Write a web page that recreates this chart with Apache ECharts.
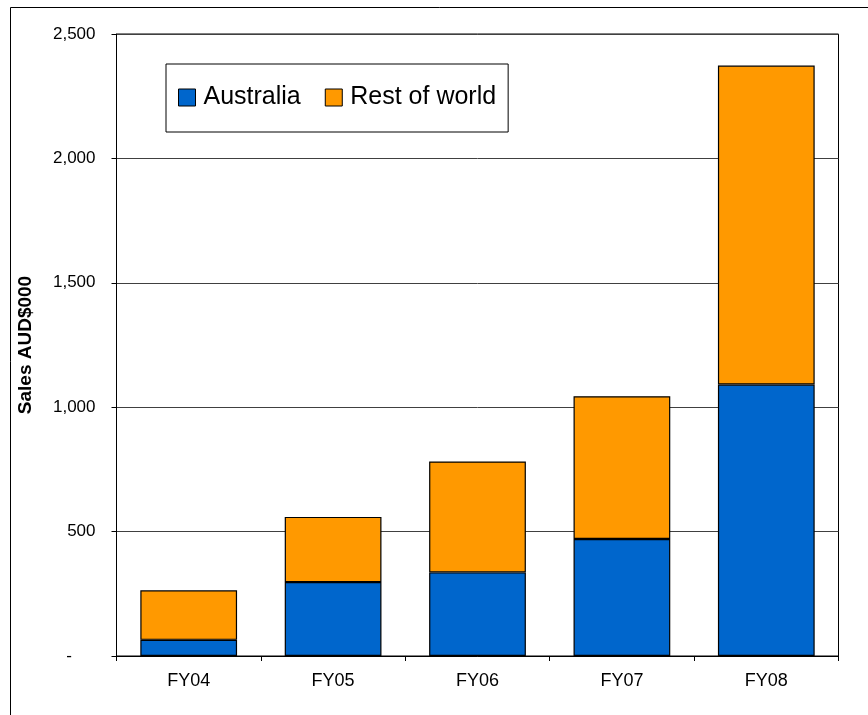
<!DOCTYPE html>
<html>
<head>
<meta charset="utf-8">
<script src="https://cdn.jsdelivr.net/npm/echarts@6/dist/echarts.min.js"></script>
<style>
  html, body { margin: 0; padding: 0; background: #fff; }
  #chart { width: 868px; height: 715px; }
</style>
</head>
<body>
<div id="chart"></div>
<script>
// Annual sales split by region, AUD$000
const categories = ['FY04', 'FY05', 'FY06', 'FY07', 'FY08'];
const australia = [65, 297, 336, 470, 1091];
const restOfWorld = [199, 262, 446, 574, 1282];
const yTicks = [0, 500, 1000, 1500, 2000, 2500];

const FONT = 'Liberation Sans, Arial, sans-serif';

// accounting-style labels: thousands separators, a dash for zero
function fmtThousands(v) {
  if (v === 0) return '-     ';
  return v.toLocaleString('en-US');
}

const chart = echarts.init(document.getElementById('chart'), null, { renderer: 'canvas' });

chart.setOption({
  backgroundColor: '#ffffff',
  animation: false,
  textStyle: { fontFamily: FONT },
  graphic: [{
    type: 'rect',
    shape: { x: 10.5, y: 7.5, width: 900, height: 800 },
    style: { fill: 'none', stroke: '#000', lineWidth: 1 },
    silent: true,
    z: -1
  }],
  grid: {
    left: 116.5,
    right: 29.5,
    top: 34,
    bottom: 59,
    show: true,
    borderColor: '#000',
    borderWidth: 1,
    backgroundColor: 'transparent'
  },
  legend: {
    left: 166,
    top: 64,
    orient: 'horizontal',
    data: ['Australia', 'Rest of world'],
    icon: 'rect',
    itemWidth: 17,
    itemHeight: 17,
    itemGap: 24,
    padding: [21, 12, 22, 12],
    backgroundColor: '#fff',
    borderColor: '#000',
    borderWidth: 1,
    borderRadius: 0,
    itemStyle: { borderColor: '#000', borderWidth: 1 },
    textStyle: { fontFamily: FONT, fontSize: 25, color: '#000', padding: [0, 0, 0, 3] }
  },
  xAxis: {
    type: 'category',
    data: categories,
    axisLine: { show: true, lineStyle: { color: '#000', width: 1 } },
    axisTick: { show: true, length: 5, inside: false, alignWithLabel: false, lineStyle: { color: '#000' } },
    axisLabel: { color: '#000', fontSize: 18, fontFamily: FONT, margin: 16 },
    splitLine: { show: false }
  },
  yAxis: {
    type: 'value',
    min: yTicks[0],
    max: yTicks[yTicks.length - 1],
    interval: yTicks[1] - yTicks[0],
    name: 'Sales AUD$000',
    nameLocation: 'middle',
    nameGap: 81,
    nameTextStyle: { color: '#000', fontSize: 19, fontWeight: 'bold', fontFamily: FONT },
    axisLine: { show: true, lineStyle: { color: '#000', width: 1 } },
    axisTick: { show: true, length: 5, inside: false, lineStyle: { color: '#000' } },
    axisLabel: { color: '#000', fontSize: 17, fontFamily: FONT, margin: 21, formatter: fmtThousands },
    splitLine: { show: true, lineStyle: { color: '#404040', width: 1 } }
  },
  series: [
    {
      name: 'Australia',
      type: 'bar',
      stack: 'sales',
      data: australia,
      barWidth: '67%',
      itemStyle: { color: '#0066CC', borderColor: '#000', borderWidth: 1.2 }
    },
    {
      name: 'Rest of world',
      type: 'bar',
      stack: 'sales',
      data: restOfWorld,
      barWidth: '67%',
      itemStyle: { color: '#FF9900', borderColor: '#000', borderWidth: 1.2 }
    }
  ]
});
</script>
</body>
</html>
